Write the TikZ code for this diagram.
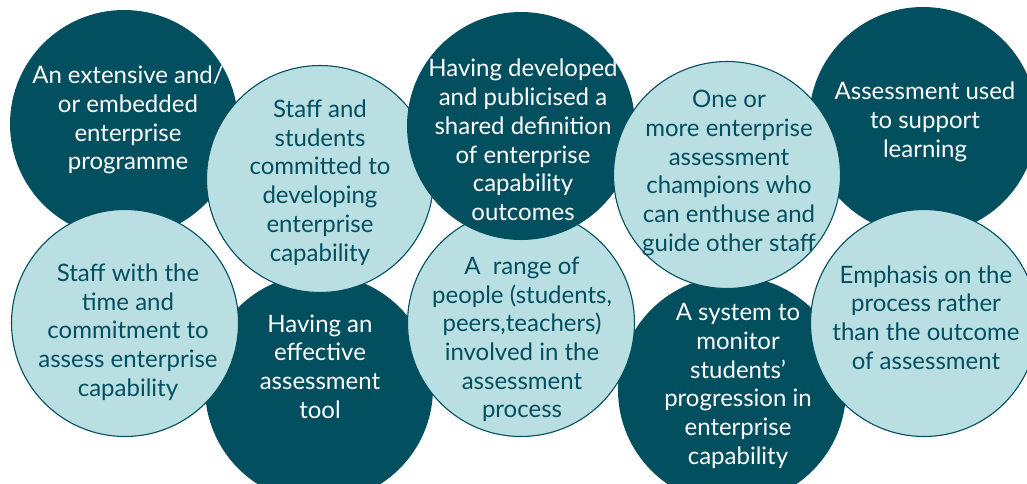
\documentclass[tikz,border=0pt]{standalone}
\usepackage{fontspec}
\setmainfont{Lato}
\definecolor{darkteal}{HTML}{024F60}
\definecolor{lightteal}{HTML}{B9DFE2}
\begin{document}
\begin{tikzpicture}[x=1pt,y=-1pt,
  darkc/.style={circle, fill=darkteal, minimum size=228pt, inner sep=0pt},
  lightc/.style={circle, fill=lightteal, draw=darkteal, line width=1.1pt, minimum size=227pt, inner sep=0pt},
  basetxt/.style={align=center, inner sep=0pt, font=\fontsize{24}{28.7}\selectfont},
  darkt/.style={basetxt, text=white},
  lightt/.style={basetxt, text=darkteal}]
\clip (0,0) rectangle (1027,483);
\useasboundingbox (0,0) rectangle (1027,483);
% dark circles (behind)
\node[darkc] (c1) at (124,124) {};
\node[darkc] (c5) at (923,121) {};
\node[darkc] (c7) at (319,388) {};
\node[darkc] (c9) at (732,390) {};
% light circles
\node[lightc] (c6) at (125,323) {};
\node[lightc] (c8) at (521,323) {};
\node[lightc] (c10) at (924,323) {};
\node[lightc] (c2) at (320,179) {};
% dark circle over its left and lower neighbours
\node[darkc] (c3) at (521,126) {};
\node[lightc] (c4) at (727,175) {};
% texts
\node[darkt] (t1) at (128,120) {An extensive and/\\or embedded\\enterprise\\programme};
\node[lightt] (t2) at (320,182.5) {Staff and\\students\\committed to\\developing\\enterprise\\capability};
\node[darkt] (t3) at (523,140) {Having developed\\and publicised a\\shared definition\\of enterprise\\capability\\outcomes};
\node[lightt] (t4) at (729,173) {One or\\more enterprise\\assessment\\champions who\\can enthuse and\\guide other staff};
\node[darkt] (t5) at (925,122) {Assessment used\\to support\\learning};
\node[lightt] (t6) at (128,332) {Staff with the\\time and\\commitment to\\assess enterprise\\capability};
\node[darkt] (t7) at (320,366.5) {Having an\\effective\\assessment\\tool};
\node[lightt] (t8) at (522,339.5) {A\ \ range of\\people (students,\\peers,teachers)\\involved in the\\assessment\\process};
\node[darkt] (t9) at (738,386) {A system to\\monitor\\students’\\progression in\\enterprise\\capability};
\node[lightt] (t10) at (926,317.5) {Emphasis on the\\process rather\\than the outcome\\of assessment};
\end{tikzpicture}
\end{document}
